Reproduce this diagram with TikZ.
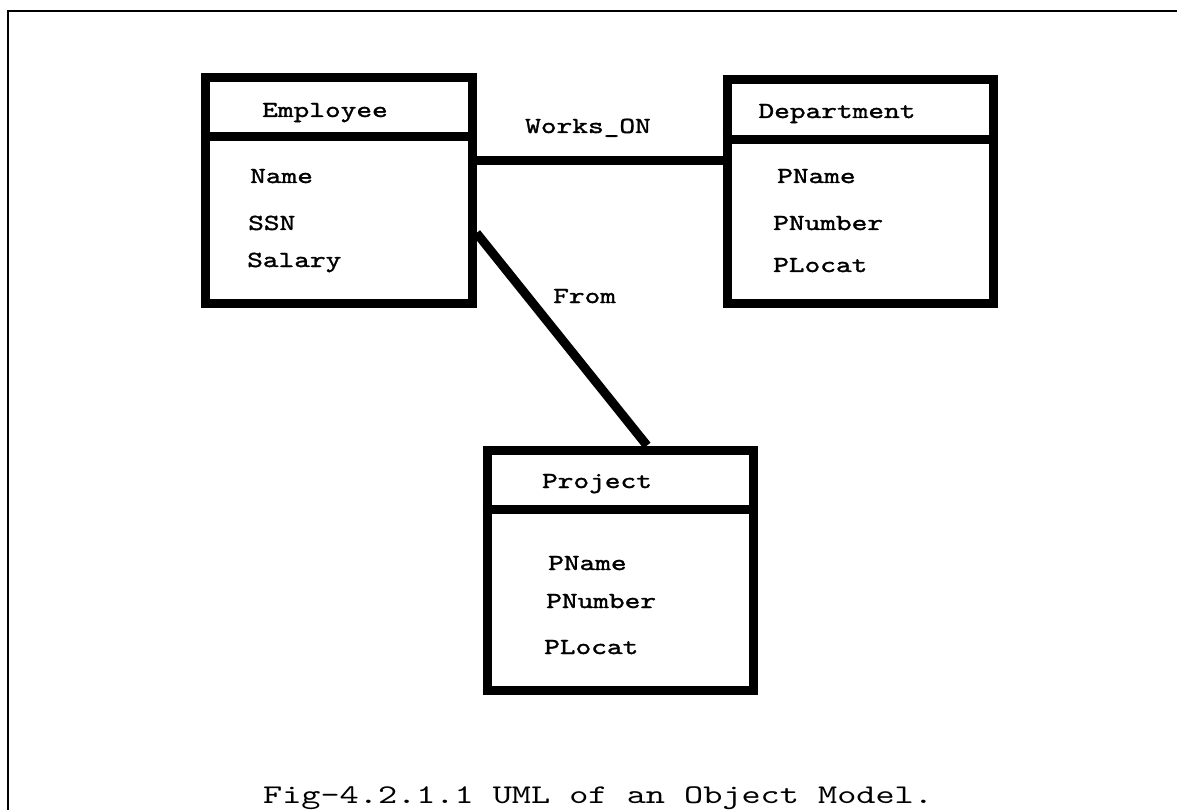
\documentclass[tikz,border=0pt]{standalone}
\usepackage{fontspec}
\newfontfamily\lblfont[FakeBold=1.4,FakeStretch=1.3]{lmmono10-regular.otf}
\newfontfamily\capfont[FakeStretch=1.35]{lmmono10-regular.otf}
\begin{document}
\begin{tikzpicture}[x=1pt,y=-1pt,
  classbox/.style={draw=black,line width=9pt,rectangle,inner sep=0pt,minimum width=266pt},
  lbl/.style={font=\lblfont\fontsize{23}{26}\selectfont,inner sep=0pt,anchor=base west},
  ttl/.style={font=\lblfont\fontsize{23}{26}\selectfont,inner sep=0pt,anchor=base},
  assoc/.style={line width=9pt,draw=black},
  divline/.style={line width=9pt,draw=black}]
\useasboundingbox (0,0) rectangle (1177,810);
% frame
\draw[line width=2pt] (8,810) -- (8,11) -- (1177,11);
% class boxes
\node[classbox,minimum width=267pt,minimum height=225pt] (emp) at (338.5,190.5) {};
\node[classbox,minimum height=223.5pt] (dept) at (860,191.25) {};
\node[classbox,minimum height=240pt] (proj) at (620,570) {};
% dividers
\draw[divline] (emp.west |- 0,137) -- (emp.east |- 0,137);
\draw[divline] (dept.west |- 0,139.5) -- (dept.east |- 0,139.5);
\draw[divline] (proj.west |- 0,509.5) -- (proj.east |- 0,509.5);
% titles
\node[ttl] (empT) at (325,117) {Employee};
\node[ttl] (deptT) at (837,118) {Department};
\node[ttl] (projT) at (597,488) {Project};
% attributes
\node[lbl] (e1) at (250,183) {Name};
\node[lbl] (e2) at (248,230) {SSN};
\node[lbl] (e3) at (247,267) {Salary};
\node[lbl] (d1) at (777,183) {PName};
\node[lbl] (d2) at (773,230) {PNumber};
\node[lbl] (d3) at (773,272) {PLocat};
\node[lbl] (p1) at (548,570) {PName};
\node[lbl] (p2) at (546,608) {PNumber};
\node[lbl] (p3) at (544,654) {PLocat};
% associations
\draw[assoc] (emp.east |- 0,161) -- (dept.west |- 0,161);
\draw[assoc] (emp.east |- 0,233) -- (proj.north -| 647,0);
\node[lbl] (works) at (525,133) {Works\_ON};
\node[lbl] (from) at (553,303) {From};
% caption
\node[font=\capfont\fontsize{27}{30}\selectfont,inner sep=0pt,anchor=base west] (cap) at (263,803) {Fig-4.2.1.1 UML of an Object Model.};
\end{tikzpicture}
\end{document}
